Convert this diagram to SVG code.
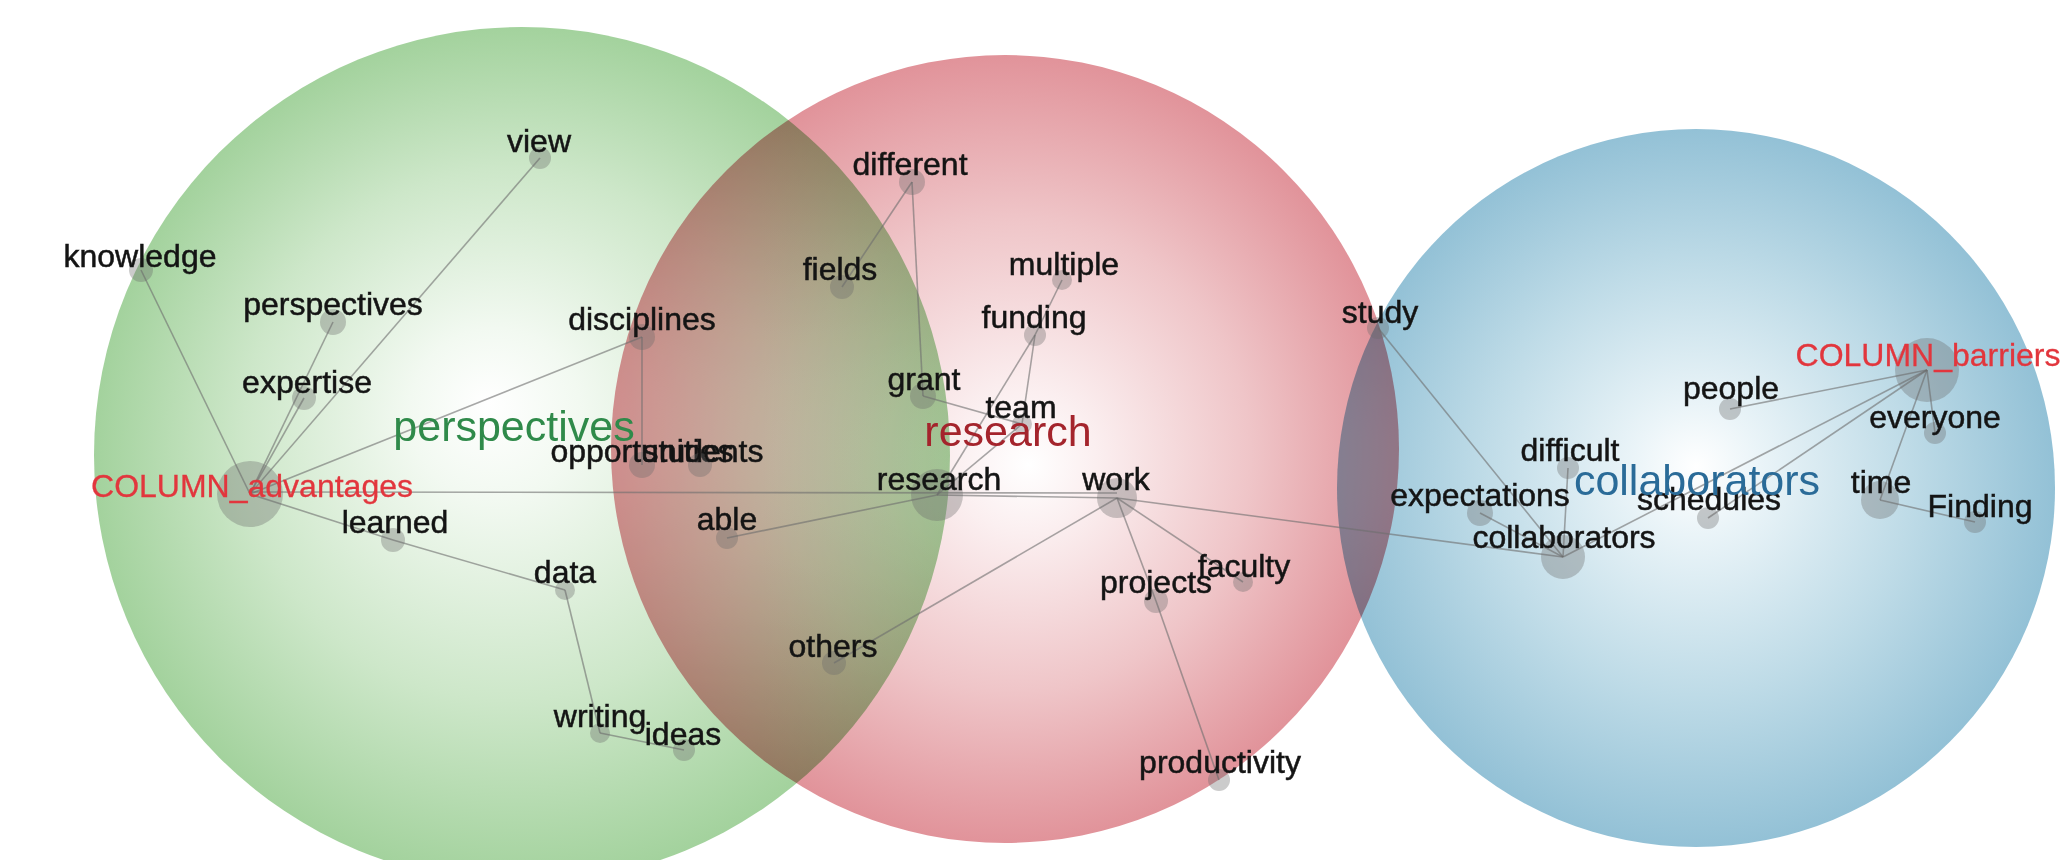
<svg xmlns="http://www.w3.org/2000/svg" width="2066" height="860" viewBox="0 0 2066 860">
<defs>
<radialGradient id="gGreen" cx="0.5" cy="0.5" r="0.5" fx="0.46" fy="0.44">
<stop offset="0" stop-color="#ffffff"/>
<stop offset="0.2" stop-color="#f2f9f1"/>
<stop offset="0.62" stop-color="#cde7c9"/>
<stop offset="1" stop-color="#a3d29d"/>
</radialGradient>
<radialGradient id="gRed" cx="0.5" cy="0.5" r="0.5" fx="0.53" fy="0.52">
<stop offset="0" stop-color="#ffffff"/>
<stop offset="0.18" stop-color="#fbeff0"/>
<stop offset="0.6" stop-color="#efc5c8"/>
<stop offset="1" stop-color="#e1939a"/>
</radialGradient>
<radialGradient id="gBlue" cx="0.5" cy="0.5" r="0.5" fx="0.5" fy="0.47">
<stop offset="0" stop-color="#ffffff"/>
<stop offset="0.18" stop-color="#eaf4f8"/>
<stop offset="0.6" stop-color="#bedbe7"/>
<stop offset="1" stop-color="#93c1d6"/>
</radialGradient>
<style>
.cl{mix-blend-mode:multiply}
.e{stroke:#6e6e6e;stroke-opacity:0.6;stroke-width:1.6;fill:none}
.n{fill:#6a6a6a;fill-opacity:0.35}
.t{font-family:"Liberation Sans",Arial,sans-serif;font-size:32px;fill:#141414;stroke:#141414;stroke-width:0.5;text-anchor:middle}
.c{font-family:"Liberation Sans",Arial,sans-serif;font-size:32px;fill:#e2363d;stroke:#e2363d;stroke-width:0.3;text-anchor:middle}
.b{font-family:"Liberation Sans",Arial,sans-serif;font-size:43px;text-anchor:middle}
</style>
</defs>
<rect width="2066" height="860" fill="#ffffff"/>
<g id="clusters">
<circle class="cl" cx="522" cy="455" r="428" fill="url(#gGreen)"/>
<circle class="cl" cx="1005" cy="449" r="394" fill="url(#gRed)"/>
<circle class="cl" cx="1696" cy="488" r="359" fill="url(#gBlue)"/>
</g>
<g id="connectors">
<line class="e" x1="141" y1="270" x2="250" y2="494"/>
<line class="e" x1="540" y1="158" x2="250" y2="494"/>
<line class="e" x1="333" y1="322" x2="250" y2="494"/>
<line class="e" x1="304" y1="398" x2="250" y2="494"/>
<line class="e" x1="642" y1="337" x2="250" y2="494"/>
<line class="e" x1="642" y1="337" x2="642" y2="465"/>
<line class="e" x1="250" y1="494" x2="393" y2="540"/>
<line class="e" x1="393" y1="540" x2="565" y2="590"/>
<line class="e" x1="565" y1="590" x2="600" y2="733"/>
<line class="e" x1="600" y1="733" x2="684" y2="750"/>
<line class="e" x1="250" y1="492" x2="1117" y2="493"/>
<line class="e" x1="912" y1="182" x2="842" y2="287"/>
<line class="e" x1="912" y1="182" x2="923" y2="396"/>
<line class="e" x1="923" y1="396" x2="1022" y2="424"/>
<line class="e" x1="1062" y1="280" x2="1035" y2="335"/>
<line class="e" x1="1035" y1="335" x2="1022" y2="424"/>
<line class="e" x1="1035" y1="335" x2="937" y2="495"/>
<line class="e" x1="1022" y1="424" x2="937" y2="495"/>
<line class="e" x1="727" y1="538" x2="937" y2="495"/>
<line class="e" x1="937" y1="495" x2="1117" y2="498"/>
<line class="e" x1="1117" y1="498" x2="834" y2="663"/>
<line class="e" x1="1117" y1="498" x2="1156" y2="601"/>
<line class="e" x1="1117" y1="498" x2="1243" y2="582"/>
<line class="e" x1="1156" y1="601" x2="1219" y2="780"/>
<line class="e" x1="1117" y1="498" x2="1563" y2="557"/>
<line class="e" x1="1378" y1="328" x2="1563" y2="557"/>
<line class="e" x1="1480" y1="513" x2="1563" y2="557"/>
<line class="e" x1="1568" y1="468" x2="1563" y2="557"/>
<line class="e" x1="1563" y1="557" x2="1927" y2="370"/>
<line class="e" x1="1708" y1="518" x2="1927" y2="370"/>
<line class="e" x1="1730" y1="409" x2="1927" y2="370"/>
<line class="e" x1="1935" y1="433" x2="1927" y2="370"/>
<line class="e" x1="1880" y1="500" x2="1927" y2="370"/>
<line class="e" x1="1880" y1="500" x2="1975" y2="522"/>
</g>
<g id="n-knowledge"><circle class="n" cx="141" cy="270" r="12"/><text class="t" x="140" y="267">knowledge</text></g>
<g id="n-view"><circle class="n" cx="540" cy="158" r="11"/><text class="t" x="539" y="152">view</text></g>
<g id="n-perspectives"><circle class="n" cx="333" cy="322" r="13"/><text class="t" x="333" y="315">perspectives</text></g>
<g id="n-disciplines"><circle class="n" cx="642" cy="337" r="13"/><text class="t" x="642" y="330">disciplines</text></g>
<g id="n-expertise"><circle class="n" cx="304" cy="398" r="12"/><text class="t" x="307" y="393">expertise</text></g>
<g id="n-column-advantages"><circle class="n" cx="250" cy="494" r="33"/><text class="c" x="252" y="497">COLUMN_advantages</text></g>
<g id="n-learned"><circle class="n" cx="393" cy="540" r="12"/><text class="t" x="395" y="533">learned</text></g>
<g id="n-data"><circle class="n" cx="565" cy="590" r="10"/><text class="t" x="565" y="583">data</text></g>
<g id="n-writing"><circle class="n" cx="600" cy="733" r="10"/><text class="t" x="600" y="727">writing</text></g>
<g id="n-ideas"><circle class="n" cx="684" cy="750" r="11"/><text class="t" x="683" y="745">ideas</text></g>
<g id="n-different"><circle class="n" cx="912" cy="182" r="13"/><text class="t" x="910" y="175">different</text></g>
<g id="n-fields"><circle class="n" cx="842" cy="287" r="12"/><text class="t" x="840" y="280">fields</text></g>
<g id="n-multiple"><circle class="n" cx="1062" cy="280" r="10"/><text class="t" x="1064" y="275">multiple</text></g>
<g id="n-funding"><circle class="n" cx="1035" cy="335" r="11"/><text class="t" x="1034" y="328">funding</text></g>
<g id="n-grant"><circle class="n" cx="923" cy="396" r="13"/><text class="t" x="924" y="390">grant</text></g>
<g id="n-team"><circle class="n" cx="1022" cy="424" r="10"/><text class="t" x="1021" y="418">team</text></g>
<g id="n-opportunities"><circle class="n" cx="642" cy="465" r="13"/><text class="t" x="642" y="462">opportunities</text></g>
<g id="n-students"><circle class="n" cx="700" cy="465" r="12"/><text class="t" x="703" y="462">students</text></g>
<g id="n-research"><circle class="n" cx="937" cy="495" r="26"/><text class="t" x="939" y="490">research</text></g>
<g id="n-able"><circle class="n" cx="727" cy="538" r="11"/><text class="t" x="727" y="530">able</text></g>
<g id="n-work"><circle class="n" cx="1117" cy="498" r="20"/><text class="t" x="1116" y="490">work</text></g>
<g id="n-others"><circle class="n" cx="834" cy="663" r="12"/><text class="t" x="833" y="657">others</text></g>
<g id="n-projects"><circle class="n" cx="1156" cy="601" r="12"/><text class="t" x="1156" y="593">projects</text></g>
<g id="n-faculty"><circle class="n" cx="1243" cy="582" r="10"/><text class="t" x="1244" y="577">faculty</text></g>
<g id="n-productivity"><circle class="n" cx="1219" cy="780" r="11"/><text class="t" x="1220" y="773">productivity</text></g>
<g id="n-study"><circle class="n" cx="1378" cy="328" r="11"/><text class="t" x="1380" y="323">study</text></g>
<g id="n-column-barriers"><circle class="n" cx="1927" cy="370" r="32"/><text class="c" x="1928" y="366">COLUMN_barriers</text></g>
<g id="n-people"><circle class="n" cx="1730" cy="409" r="11"/><text class="t" x="1731" y="399">people</text></g>
<g id="n-everyone"><circle class="n" cx="1935" cy="433" r="11"/><text class="t" x="1935" y="428">everyone</text></g>
<g id="n-difficult"><circle class="n" cx="1568" cy="468" r="11"/><text class="t" x="1570" y="461">difficult</text></g>
<g id="n-expectations"><circle class="n" cx="1480" cy="513" r="13"/><text class="t" x="1480" y="506">expectations</text></g>
<g id="n-schedules"><circle class="n" cx="1708" cy="518" r="11"/><text class="t" x="1709" y="510">schedules</text></g>
<g id="n-time"><circle class="n" cx="1880" cy="500" r="19"/><text class="t" x="1881" y="493">time</text></g>
<g id="n-finding"><circle class="n" cx="1975" cy="522" r="11"/><text class="t" x="1980" y="517">Finding</text></g>
<g id="n-collaborators"><circle class="n" cx="1563" cy="557" r="22"/><text class="t" x="1564" y="548">collaborators</text></g>
<g id="labels">
<text class="b" x="514" y="441" fill="#2f8a4a">perspectives</text>
<text class="b" x="1008" y="446" fill="#a4242c">research</text>
<text class="b" x="1697" y="495" fill="#2a6b98">collaborators</text>
</g>
</svg>
